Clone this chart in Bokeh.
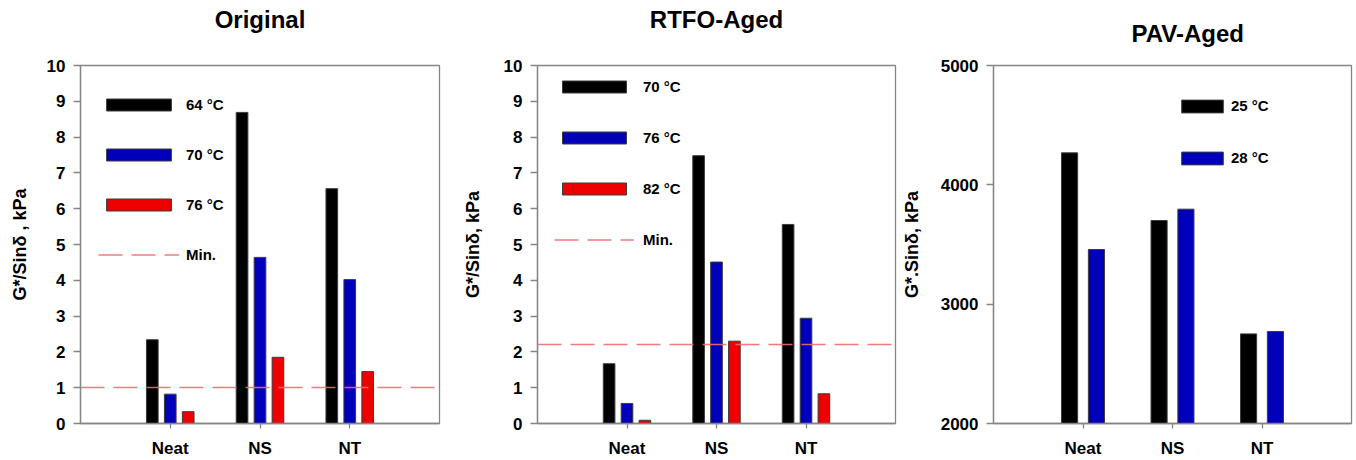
from bokeh.plotting import figure
from bokeh.layouts import row
from bokeh.models import FactorRange, Range1d, Legend, LegendItem, FixedTicker, ColumnDataSource, Title
from bokeh.transform import dodge
from bokeh.embed import file_html
from bokeh.resources import INLINE

categories = ["Neat", "NS", "NT"]

orig_labels = ["64 °C", "70 °C", "76 °C"]
orig_64 = [2.34, 8.69, 6.56]
orig_70 = [0.82, 4.64, 4.02]
orig_76 = [0.33, 1.85, 1.45]
orig_min = [1.0]

rtfo_labels = ["70 °C", "76 °C", "82 °C"]
rtfo_70 = [1.67, 7.48, 5.56]
rtfo_76 = [0.56, 4.51, 2.94]
rtfo_82 = [0.09, 2.30, 0.83]
rtfo_min = [2.2]

pav_labels = ["25 °C", "28 °C"]
pav_25 = [4268, 3701, 2751]
pav_28 = [3458, 3796, 2771]

kpa_ticks = [0, 1, 2, 3, 4, 5, 6, 7, 8, 9, 10]
pav_ticks = [2000, 3000, 4000, 5000]

FONT = "Liberation Sans"
BLACK = "#000000"
BLUE = "#0000BB"
RED = "#EE0000"
MINC = "#F26C6C"
GRAY = "#858585"


def panel(title, ylabel, series, labels, colors, offsets, bar_w, yr, yticks,
          min_value, width, bl, br, leg_loc, glyph_w, glyph_h, spacing,
          label_standoff, title_align, title_offset, title_gap, ylab_standoff):
    p = figure(x_range=FactorRange(*categories, range_padding=1 / 3),
               y_range=Range1d(*yr), width=width, height=460,
               output_backend="svg", toolbar_location=None, title=None,
               min_border_left=bl, min_border_right=br,
               min_border_top=65, min_border_bottom=37)
    # empty spacer between the frame and the title
    p.add_layout(Title(text=" ", text_font_size="1px", standoff=title_gap),
                 "above")
    p.add_layout(Title(text=title, text_font=FONT, text_font_size="24px",
                       text_font_style="bold", text_color="black",
                       align=title_align, offset=title_offset, standoff=4),
                 "above")
    p.xgrid.grid_line_color = None
    p.ygrid.grid_line_color = None
    p.outline_line_color = GRAY
    p.outline_line_width = 1.3
    p.background_fill_color = "white"
    p.border_fill_color = "white"

    data = {"cat": categories}
    for i, s in enumerate(series):
        data[f"s{i}"] = s
    src = ColumnDataSource(data)
    items = []
    for i, (lab, col, off) in enumerate(zip(labels, colors, offsets)):
        r = p.vbar(x=dodge("cat", off, range=p.x_range), top=f"s{i}",
                   bottom=yr[0], width=bar_w, source=src, fill_color=col,
                   line_color="#3c3c3c", line_width=1)
        items.append(LegendItem(label=lab, renderers=[r]))
    if min_value is not None:
        lr = p.hspan(y=min_value, line_color=MINC, line_dash="24 9",
                     line_width=1.6, line_alpha=0.9)
        items.append(LegendItem(label="Min.", renderers=[lr]))

    leg = Legend(items=items, location=leg_loc, glyph_width=glyph_w,
                 glyph_height=glyph_h, label_standoff=label_standoff,
                 spacing=spacing, padding=0, margin=0, border_line_alpha=0,
                 background_fill_alpha=0, label_text_font=FONT,
                 label_text_font_size="15px", label_text_font_style="bold",
                 label_text_color="black", label_height=glyph_h)
    p.add_layout(leg)

    for ax in (p.xaxis, p.yaxis):
        ax.axis_line_color = GRAY
        ax.axis_line_width = 1.3
        ax.major_tick_line_color = GRAY
        ax.major_tick_line_width = 1.3
        ax.minor_tick_line_color = None
        ax.major_label_text_font = FONT
        ax.major_label_text_font_style = "bold"
        ax.major_label_text_font_size = "17px"
        ax.major_label_text_color = "black"
        ax.major_tick_in = 0
    p.xaxis.major_tick_out = 5
    p.xaxis.major_label_standoff = 10
    p.yaxis.major_tick_out = 7
    p.yaxis.major_label_standoff = 8
    p.yaxis.ticker = FixedTicker(ticks=yticks)
    p.yaxis.axis_label = ylabel
    p.yaxis.axis_label_text_font = FONT
    p.yaxis.axis_label_text_font_style = "bold"
    p.yaxis.axis_label_text_font_size = "18px"
    p.yaxis.axis_label_text_color = "black"
    p.yaxis.axis_label_standoff = ylab_standoff
    return p


p1 = panel("Original", "G*/Sinδ , kPa", [orig_64, orig_70, orig_76], orig_labels,
           [BLACK, BLUE, RED], [-0.2, 0.0, 0.2], 0.13, (0, 10), kpa_ticks,
           orig_min, 452, 80, 13, (18, 160), 81, 15, 33, 7,
           "center", 0, 28, 14)
p2 = panel("RTFO-Aged", "G*/Sinδ, kPa", [rtfo_70, rtfo_76, rtfo_82], rtfo_labels,
           [BLACK, BLUE, RED], [-0.2, 0.0, 0.2], 0.13, (0, 10), kpa_ticks,
           rtfo_min, 446, 85, 3, (17, 175), 80, 15, 34, 9,
           "center", 0, 28, 18)
p3 = panel("PAV-Aged", "G*.Sinδ, kPa", [pav_25, pav_28], pav_labels,
           [BLACK, BLUE], [-0.15, 0.15], 0.18, (2000, 5000), pav_ticks,
           None, 458, 95, 5, (183, 257), 52, 16, 35, 3,
           "left", 138, 14, 16)

layout = row(p1, p2, p3, spacing=0)
open("out.html", "w").write(file_html(layout, INLINE))
